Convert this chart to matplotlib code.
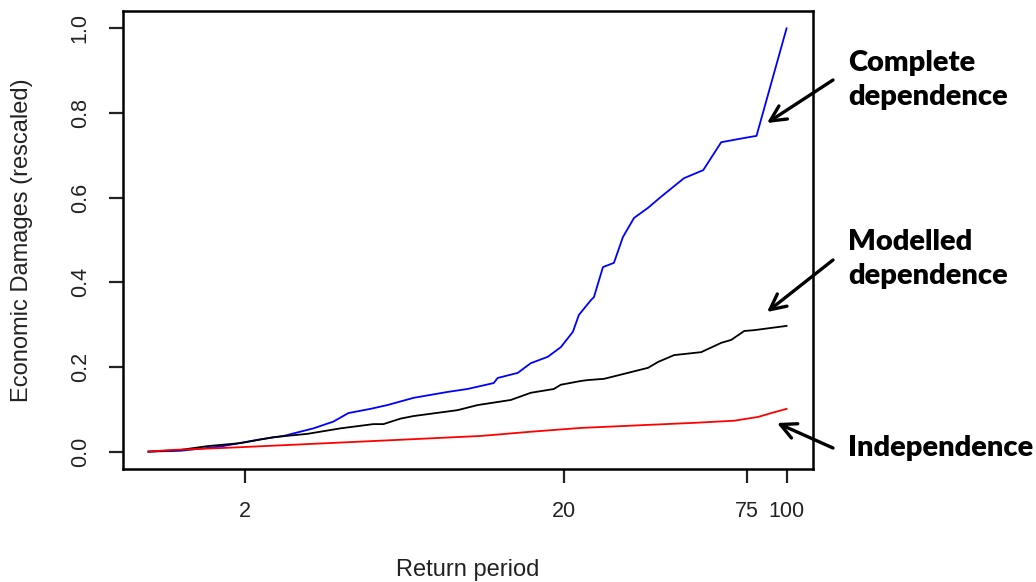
import matplotlib
matplotlib.use("Agg")
import matplotlib.pyplot as plt
from matplotlib.ticker import NullLocator, FixedLocator

# values
blue_T = [1.0, 1.26, 1.68, 2.24, 2.65, 3.29, 3.80, 4.23, 4.96, 5.61, 6.77, 8.66, 10.0,
          12.08, 12.43, 14.37, 15.79, 17.85, 19.62, 21.39, 22.34, 24.37, 24.9, 26.58,
          28.77, 30.7, 33.25, 36.8, 40.4, 47.7, 54.8, 62.4, 73.7, 80.5, 100.0]
blue_v = [0.0, 0.002, 0.012, 0.029, 0.037, 0.055, 0.071, 0.091, 0.101, 0.110, 0.127, 0.141,
          0.148, 0.162, 0.174, 0.186, 0.209, 0.224, 0.247, 0.283, 0.323, 0.358, 0.365, 0.436,
          0.446, 0.507, 0.552, 0.576, 0.602, 0.646, 0.665, 0.731, 0.741, 0.746, 1.0]

black_T = [1.0, 1.26, 1.53, 1.94, 2.46, 3.15, 4.00, 5.07, 5.45, 6.17, 6.77, 9.31, 10.76,
           13.66, 15.79, 18.65, 19.6, 22.7, 23.8, 26.8, 31.8, 36.8, 39.6, 44.4, 54.0, 62.4,
           67.1, 73.7, 79.2, 100.0]
black_v = [0.0, 0.004, 0.013, 0.020, 0.034, 0.042, 0.055, 0.065, 0.065, 0.078, 0.084, 0.098,
           0.110, 0.122, 0.139, 0.148, 0.158, 0.167, 0.169, 0.172, 0.186, 0.198, 0.212, 0.228,
           0.235, 0.257, 0.264, 0.285, 0.287, 0.297]

red_T = [1.0, 1.19, 1.76, 2.99, 6.16, 11.0, 15.79, 22.7, 31.8, 51.3, 68.5, 81.5, 89.5, 100.0]
red_v = [0.0, 0.004, 0.009, 0.017, 0.028, 0.037, 0.047, 0.056, 0.061, 0.068, 0.073, 0.082,
         0.091, 0.101]

xticks = [2, 20, 75, 100]
yticks = [0.0, 0.2, 0.4, 0.6, 0.8, 1.0]

plt.rcParams['font.family'] = ['Liberation Sans', 'DejaVu Sans']

fig = plt.figure(figsize=(10.36, 5.82), dpi=100)
ax = fig.add_axes([0.1184, 0.1942, 0.6661, 0.7869])

ax.plot(blue_T, blue_v, color='#0000ff', lw=1.3)
ax.plot(black_T, black_v, color='black', lw=1.3)
ax.plot(red_T, red_v, color='#ff0000', lw=1.3)

ax.set_xscale('log')
ax.set_xlim(0.83, 120.8)
ax.set_ylim(-0.041, 1.041)

ax.xaxis.set_major_locator(FixedLocator(xticks))
ax.xaxis.set_minor_locator(NullLocator())
ax.set_xticklabels([str(t) for t in xticks], fontsize=15.5)
ax.set_yticks(yticks)
ax.set_yticklabels(['%.1f' % t for t in yticks], fontsize=15.5, rotation=90, va='center')

for s in ax.spines.values():
    s.set_linewidth(1.8)
ax.tick_params(length=10, width=1.6, pad=13, color='#222222', labelcolor='#222222')

ax.set_xlabel('Return period', fontsize=17, color='#222222')
ax.xaxis.set_label_coords(0.5, -0.2205)
ax.xaxis.label.set_va('center')
ax.set_ylabel('Economic Damages (rescaled)', fontsize=17, color='#222222')
ax.yaxis.set_label_coords(-0.1455, 0.5)
ax.yaxis.label.set_va('center')

H = 582.0
def fp(x, y):
    return (x, H - y)

labels = [("Complete\ndependence", 80, (833, 80), (767, 123)),
          ("Modelled\ndependence", 259, (833, 260), (767, 312)),
          ("Independence", 448, (833, 448), (777, 423))]
for txt, yc, tail, tip in labels:
    fig.text(848 / 1036, 1 - yc / H, txt, fontsize=21, fontweight='heavy',
             family=['Lato', 'DejaVu Sans'], va='center', ha='left', linespacing=1.4)
    ax.annotate('', xy=fp(*tip), xycoords='figure pixels',
                xytext=fp(*tail), textcoords='figure pixels',
                arrowprops=dict(arrowstyle='->', lw=2.4, color='black',
                                mutation_scale=28, shrinkA=0, shrinkB=0),
                annotation_clip=False)

fig.savefig('out.png', dpi=100)
